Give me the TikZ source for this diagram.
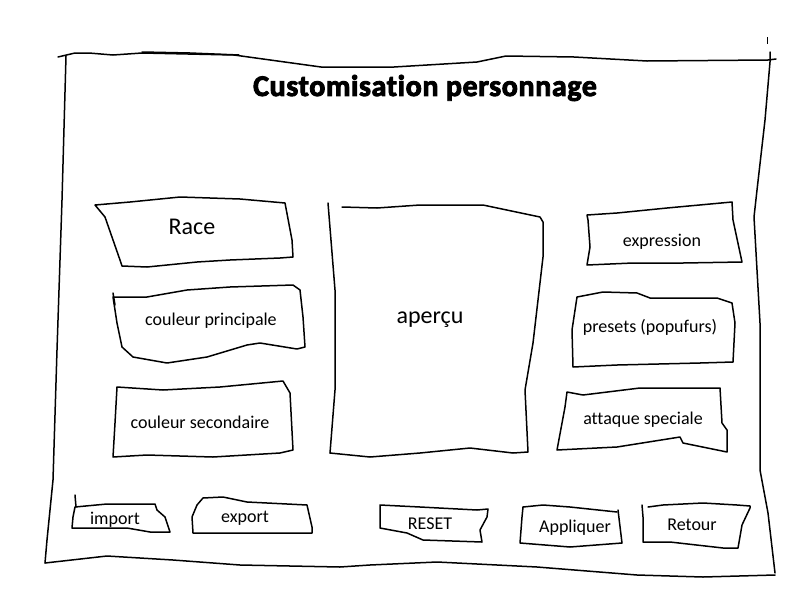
\documentclass[tikz,border=0pt]{standalone}
\usepackage{fontspec}
\setmainfont{Carlito}[Ligatures=NoCommon]
\newfontfamily\headfont[Ligatures=NoCommon, BoldFeatures={FakeBold=3}]{Carlito}
\begin{document}
\begin{tikzpicture}[x=1pt,y=-1pt,
  sketch/.style={line width=1.5pt, line join=round, line cap=round},
  lbl/.style={font=\fontsize{18}{20}\selectfont, inner sep=0pt},
  biglbl/.style={font=\fontsize{24}{26}\selectfont, inner sep=0pt},
  headlbl/.style={font=\headfont\bfseries\fontsize{30}{32}\selectfont, inner sep=0pt}]
\useasboundingbox[fill=white] (0,0) rectangle (800,600);

% outer frame
\draw[sketch] (58,57) -- (75,53) -- (89,53) -- (113,55) -- (142,53) -- (234,55)
  -- (321,67) -- (394,67) -- (477,62) -- (506,56) -- (574,57) -- (647,61)
  -- (768,60) -- (776,59);
\draw[sketch] (142,52) -- (190,53) -- (239,55);
\draw[sketch] (770,52) -- (770,62) -- (765,120) -- (757,190) -- (754,217)
  -- (760,323) -- (760,470) -- (768,513) -- (775,573);
\draw[sketch] (775,575) -- (703,577) -- (637,575) -- (537,567) -- (437,562)
  -- (370,565) -- (340,567) -- (240,565) -- (173,560) -- (107,556) -- (45,563);
\draw[sketch] (45,563) -- (47,540) -- (53,480) -- (57,350) -- (62,200) -- (66,56);
\draw[line width=1pt] (767,37) -- (767,44);

\node[headlbl] (title) at (425,88) {\addfontfeature{LetterSpace=2}Customisation personnage};

% left column
\draw[sketch] (95,205) -- (130,202) -- (180,197) -- (240,199) -- (285,203)
  -- (292,240) -- (293,257) -- (280,258) -- (230,260) -- (197,262) -- (147,267)
  -- (122,266) -- (120,260) -- (105,217) -- cycle;
\node[biglbl] (race) at (192,227) {Race};

\draw[sketch] (113,297) -- (147,297) -- (187,290) -- (230,287) -- (293,285)
  -- (300,290) -- (303,317) -- (305,347) -- (297,349) -- (260,343) -- (247,345)
  -- (207,357) -- (167,363) -- (133,357) -- (122,347) -- (117,323) -- cycle;
\draw[sketch] (113,293) -- (115,305);
\node[lbl] (coulp) at (211,321) {couleur principale};

\draw[sketch] (117,387) -- (163,390) -- (220,387) -- (283,381) -- (290,393)
  -- (293,450) -- (280,453) -- (213,457) -- (147,455) -- (113,457) -- (115,423) -- cycle;
\node[lbl] (couls) at (200,422) {couleur secondaire};

% preview
\draw[sketch] (328,203) -- (335,290) -- (335,390) -- (330,453);
\draw[sketch] (342,207) -- (377,208) -- (420,205) -- (483,205) -- (540,217)
  -- (543,222) -- (543,257) -- (533,343) -- (525,390) -- (528,452) -- (513,453)
  -- (470,448) -- (420,453) -- (370,457) -- (330,453);
\node[biglbl] (apercu) at (430,320) {aperçu};

% right column
\draw[sketch] (587,215) -- (617,213) -- (667,208) -- (732,202) -- (733,220)
  -- (742,262) -- (683,263) -- (633,263) -- (587,265) -- (590,247) -- (588,220) -- cycle;
\node[lbl] (expr) at (662,242) {expression};

\draw[sketch] (577,297) -- (603,292) -- (637,293) -- (650,298) -- (717,298)
  -- (732,303) -- (735,323) -- (733,362) -- (700,363) -- (617,365) -- (573,367)
  -- (572,330) -- cycle;
\node[lbl] (presets) at (650,327) {presets (popufurs)};

\draw[sketch] (567,392) -- (583,395) -- (640,388) -- (667,388) -- (720,388)
  -- (722,423) -- (727,430) -- (727,452) -- (683,443) -- (680,437) -- (617,447)
  -- (557,450) -- (565,407) -- cycle;
\node[lbl] (attaque) at (643,420) {attaque speciale};

% bottom buttons
\draw[sketch] (75,495) -- (76,507);
\draw[sketch] (75,507) -- (107,504) -- (155,504) -- (157,510) -- (165,517)
  -- (170,532) -- (150,532) -- (127,528) -- (72,528) -- (73,517) -- cycle;
\node[lbl] (import) at (115,520) {import};

\draw[sketch] (203,498) -- (223,497) -- (247,502) -- (307,505) -- (312,527)
  -- (312,533) -- (273,533) -- (207,533) -- (193,533) -- (192,517) -- (197,505) -- cycle;
\node[lbl] (export) at (245,518) {export};

\draw[sketch] (380,505) -- (420,507) -- (477,510) -- (488,509) -- (487,517)
  -- (480,530) -- (482,542) -- (423,540) -- (407,533) -- (380,528) -- cycle;
\node[lbl] (reset) at (430,524) {RESET};

\draw[sketch] (523,507) -- (543,505) -- (570,507) -- (617,512);
\draw[sketch] (618,510) -- (622,543) -- (570,547) -- (520,543) -- (522,517) -- (523,507);
\node[lbl] (appl) at (575,528) {Appliquer};

\draw[sketch] (642,505) -- (643,517) -- (643,542) -- (670,542) -- (723,548)
  -- (738,548) -- (742,525) -- (750,508) -- (750,506) -- (737,505) -- (703,503)
  -- (663,505) -- (648,507);
\node[lbl] (retour) at (692,525) {Retour};
\end{tikzpicture}
\end{document}
